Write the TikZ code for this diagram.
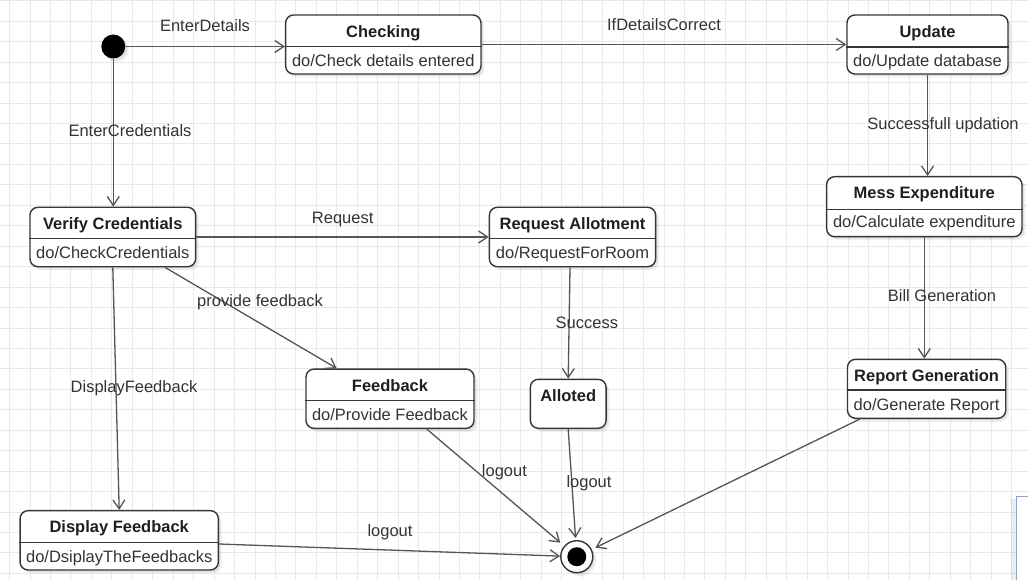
\documentclass[tikz,border=0pt]{standalone}
\usepackage{fontspec}
\setmainfont{Liberation Sans}
\usetikzlibrary{arrows.meta,shadows}
\definecolor{gridc}{HTML}{E9E9E9}
\definecolor{edgec}{HTML}{363636}
\definecolor{linec}{HTML}{555555}
\definecolor{txtc}{HTML}{333333}
\definecolor{bluec}{HTML}{7EA6F0}
\begin{document}
\begin{tikzpicture}[x=1pt,y=-1pt,
  gridline/.style={draw=gridc,line width=1pt},
  softshadow/.style={drop shadow={shadow xshift=3.5pt,shadow yshift=-3.5pt,opacity=0.06,fill=black},
     drop shadow={shadow xshift=2pt,shadow yshift=-2pt,opacity=0.06,fill=black}},
  statebox/.style={draw=edgec,line width=1.4pt,rounded corners=8pt,fill=white,inner sep=0pt,softshadow},
  divider/.style={draw=edgec,line width=1.4pt},
  txt/.style={font=\fontsize{16.5}{19}\selectfont,text=txtc,inner sep=0pt,text height=12pt,text depth=0pt},
  title/.style={txt,font=\fontsize{16.5}{19}\selectfont\bfseries,text=black!88},
  body/.style={txt},
  lbl/.style={txt},
  trans/.style={draw=linec,line width=1.3pt,-{Straight Barb[length=9pt,width=12pt]}},
]
% background and grid
\fill[white] (0,0) rectangle (1028,580);
\useasboundingbox (0,0) rectangle (1028,580);
\foreach \i in {0,...,49} \draw[gridline] ({9.6+\i*20.45},0) -- ({9.6+\i*20.45},580);
\foreach \j in {0,...,28} \draw[gridline] (0,{0.8+\j*20.45}) -- (1028,{0.8+\j*20.45});

% states
\node[circle,fill=black,minimum size=24pt,inner sep=0pt,softshadow] (init) at (113.3,46.5) {};

\node[statebox,minimum width=195.3pt,minimum height=59pt] (chk) at (383.3,44.5) {};
\draw[divider] (chk.west |- 0,46.7) -- (chk.east |- 0,46.7);
\node[title] (chkT) at (383.3,31.7) {Checking};
\node[body] (chkB) at (383.3,60.3) {do/Check details entered};

\node[statebox,minimum width=161pt,minimum height=59pt] (upd) at (927.5,44.5) {};
\draw[divider] (upd.west |- 0,47) -- (upd.east |- 0,47);
\node[title] (updT) at (927.5,31.7) {Update};
\node[body] (updB) at (927.5,60.5) {do/Update database};

\node[statebox,minimum width=165.7pt,minimum height=59.4pt] (vc) at (112.8,237) {};
\draw[divider] (vc.west |- 0,238.7) -- (vc.east |- 0,238.7);
\node[title] (vcT) at (112.8,223.3) {Verify Credentials};
\node[body] (vcB) at (112.8,252.5) {do/CheckCredentials};

\node[statebox,minimum width=166.3pt,minimum height=59.4pt] (ra) at (572.5,237) {};
\draw[divider] (ra.west |- 0,238.5) -- (ra.east |- 0,238.5);
\node[title] (raT) at (572.5,223.3) {Request Allotment};
\node[body] (raB) at (572.5,252.5) {do/RequestForRoom};

\node[statebox,minimum width=195.3pt,minimum height=60pt] (mess) at (924.3,206.7) {};
\draw[divider] (mess.west |- 0,209.3) -- (mess.east |- 0,209.3);
\node[title] (messT) at (924.3,193) {Mess Expenditure};
\node[body] (messB) at (924.3,222) {do/Calculate expenditure};

\node[statebox,minimum width=168pt,minimum height=59.3pt] (fb) at (390,398.7) {};
\draw[divider] (fb.west |- 0,400.7) -- (fb.east |- 0,400.7);
\node[title] (fbT) at (390,385.7) {Feedback};
\node[body] (fbB) at (390,414.3) {do/Provide Feedback};

\node[statebox,minimum width=75.7pt,minimum height=49pt] (al) at (568.2,403.8) {};
\node[title] (alT) at (568.2,395.7) {Alloted};

\node[statebox,minimum width=158.2pt,minimum height=59pt] (rep) at (926.6,388.8) {};
\draw[divider] (rep.west |- 0,390) -- (rep.east |- 0,390);
\node[title] (repT) at (926.6,375.7) {Report Generation};
\node[body] (repB) at (926.6,404.5) {do/Generate Report};

\node[statebox,minimum width=198.3pt,minimum height=59.3pt] (df) at (119.2,540.3) {};
\draw[divider] (df.west |- 0,542.3) -- (df.east |- 0,542.3);
\node[title] (dfT) at (119.2,526.7) {Display Feedback};
\node[body] (dfB) at (119.2,556.2) {do/DsiplayTheFeedbacks};

\node[circle,draw=edgec,line width=1.4pt,fill=white,minimum size=32pt,inner sep=0pt,softshadow] (fin) at (576.8,556.7) {};
\node[circle,fill=black,minimum size=19pt,inner sep=0pt] (finIn) at (fin.center) {};

% transitions
\draw[trans] (init.east) -- (chk.west |- init.east);
\draw[trans] (chk.east) -- (upd.west);
\draw[trans] (init.south) -- (init.south |- vc.north);
\draw[trans] (vc.east) -- (ra.west);
\draw[trans] ([xshift=52.2pt]vc.south) -- ([xshift=-53.3pt]fb.north);
\draw[trans] (vc.south) -- (df.north);
\draw[trans] (upd.south) -- (upd.south |- mess.north);
\draw[trans] (mess.south) -- (mess.south |- rep.north);
\draw[trans] ([xshift=-2.5pt]ra.south) -- (al.north);
\draw[trans,shorten >=5pt] ([xshift=36.7pt]fb.south) -- (fin);
\draw[trans,shorten >=2pt] (al.south) -- (fin);
\draw[trans,shorten >=4pt] ([xshift=-66.6pt]rep.south) -- (fin);
\draw[trans] ([yshift=-3.7pt]df.east) -- (fin);

% labels
\node[lbl] (l1) at (205,26) {EnterDetails};
\node[lbl] (l2) at (664,25) {IfDetailsCorrect};
\node[lbl] (l3) at (130,131) {EnterCredentials};
\node[lbl] (l4) at (342.7,217.3) {Request};
\node[lbl] (l5) at (260,300.7) {provide feedback};
\node[lbl] (l6) at (134,386.7) {DisplayFeedback};
\node[lbl] (l7) at (943,123.3) {Successfull updation};
\node[lbl] (l8) at (586.9,322.3) {Success};
\node[lbl] (l9) at (942,295.5) {Bill Generation};
\node[lbl] (l10) at (504.4,470.5) {logout};
\node[lbl] (l11) at (589,481.7) {logout};
\node[lbl] (l12) at (390,530.7) {logout};

% partial panel at the lower right edge
\fill[black,opacity=0.07] (1011,499) rectangle (1016.3,580);
\fill[white] (1016.3,496.7) rectangle (1028,580);
\draw[bluec,line width=1.5pt] (1016.3,580) -- (1016.3,496.7) -- (1028,496.7);
\end{tikzpicture}
\end{document}
